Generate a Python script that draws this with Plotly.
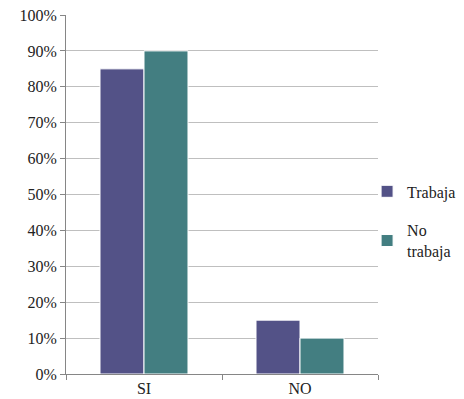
import plotly.graph_objects as go

categories = ["SI", "NO"]
trabaja = [85, 15]
no_trabaja = [90, 10]
series_names = ["Trabaja", "No<br>trabaja"]
colors = ["#535287", "#437E81"]
y_ticks = list(range(0, 101, 10))
y_ticklabels = [f"{v}%" for v in y_ticks]

font = "Liberation Serif, DejaVu Serif, serif"

fig = go.Figure()
for i, (name, vals) in enumerate(zip(series_names, [trabaja, no_trabaja])):
    fig.add_trace(go.Bar(
        x=categories, y=vals, name=name,
        marker=dict(color=colors[i], line=dict(color="white", width=1)),
        legendgroup=f"g{i}",
    ))

fig.update_layout(
    width=464, height=399,
    margin=dict(l=66, r=86, t=15, b=25, autoexpand=False),
    plot_bgcolor="white", paper_bgcolor="white",
    barmode="group", bargap=0.436, bargroupgap=0.0,
    font=dict(family=font, size=16, color="#222222"),
    legend=dict(x=0.965, xanchor="left", y=0.425, yanchor="middle",
                traceorder="grouped", tracegroupgap=15,
                bgcolor="rgba(0,0,0,0)",
                font=dict(size=16), itemwidth=30),
    showlegend=True,
)
fig.update_yaxes(range=[0, 100], tickvals=y_ticks, ticktext=y_ticklabels,
                 showgrid=True, gridcolor="#BFBFBF", gridwidth=1,
                 showline=True, linecolor="#868686", linewidth=1,
                 ticks="outside", ticklen=5, tickcolor="#868686",
                 zeroline=False, fixedrange=True, automargin=False)
fig.update_xaxes(showline=True, linecolor="#868686", linewidth=1,
                 ticks="outside", ticklen=5, tickcolor="#868686",
                 tickson="boundaries", showgrid=False, mirror=False,
                 automargin=False)

fig.write_html("out.html", config={"displayModeBar": False},
               post_script="document.body.style.margin='0';document.body.style.overflow='hidden';")
